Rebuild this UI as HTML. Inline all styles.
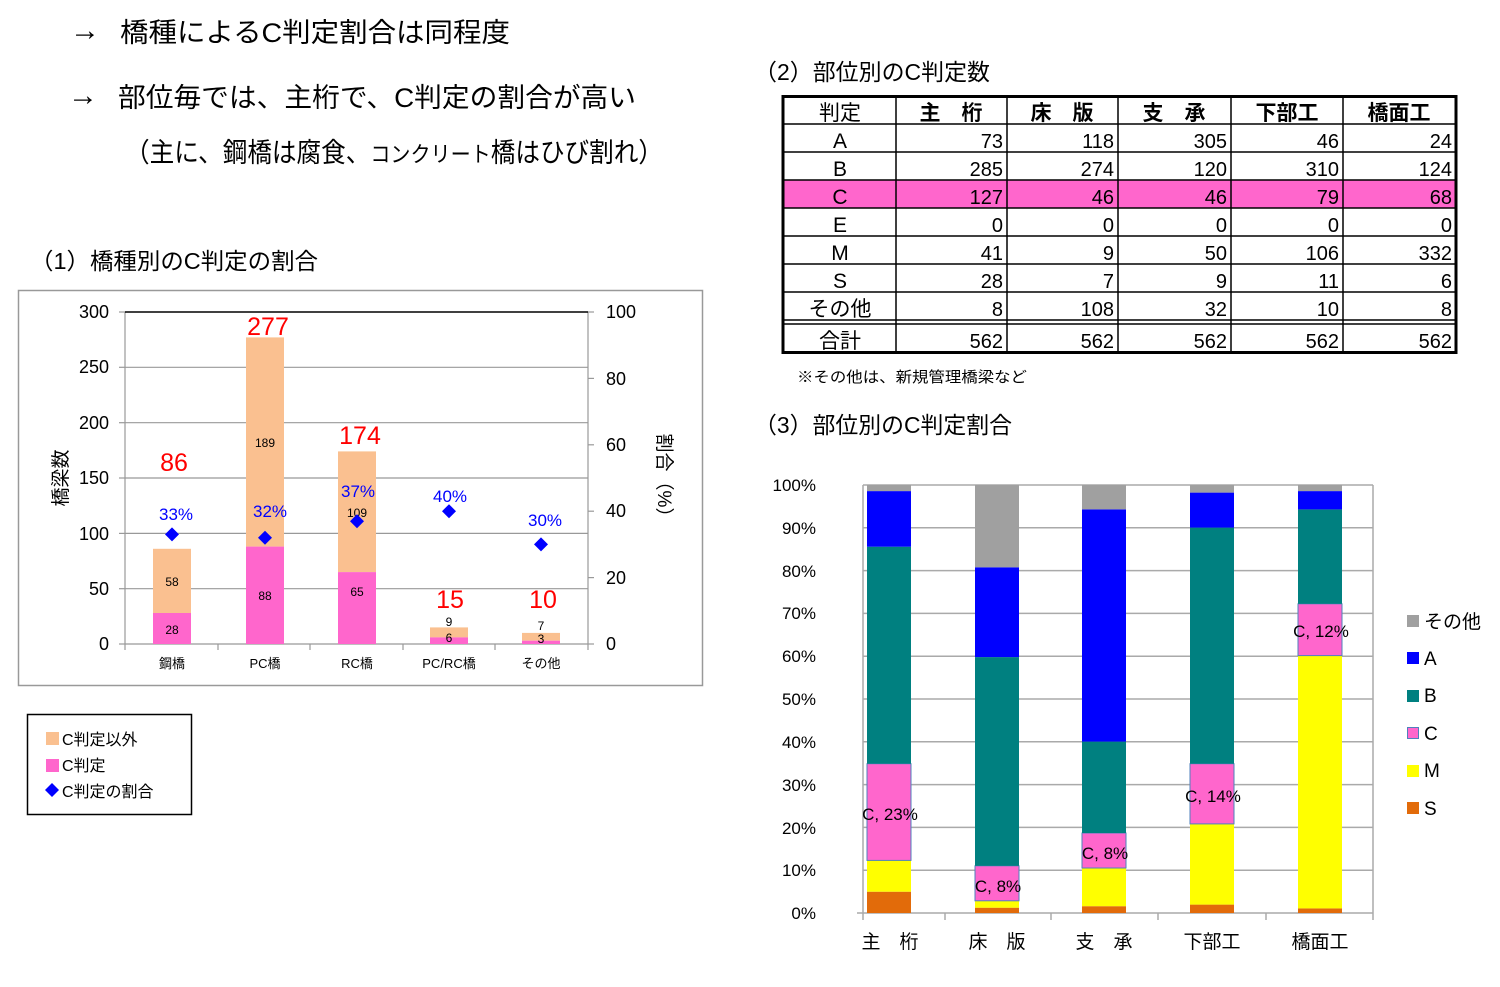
<!DOCTYPE html>
<html><head><meta charset="utf-8">
<style>
html,body{margin:0;padding:0;background:#fff;}
svg{display:block;}
text{font-family:"Liberation Sans","Noto Sans CJK JP",sans-serif;}
</style></head>
<body>
<svg width="1500" height="987" viewBox="0 0 1500 987" xmlns="http://www.w3.org/2000/svg">
<!-- headings -->
<g font-size="27" fill="#000">
<text x="70" y="40" font-size="30">→</text>
<text x="120" y="42" textLength="390" lengthAdjust="spacingAndGlyphs">橋種によるC判定割合は同程度</text>
<text x="68" y="105" font-size="30">→</text>
<text x="118" y="107" textLength="518" lengthAdjust="spacingAndGlyphs">部位毎では、主桁で、C判定の割合が高い</text>
<text x="125" y="162" textLength="538" lengthAdjust="spacingAndGlyphs">（主に、鋼橋は腐食、<tspan font-size="22">コンクリート</tspan>橋はひび割れ）</text>
</g>
<g font-size="23" fill="#000">
<text x="30" y="269" textLength="288" lengthAdjust="spacingAndGlyphs">（1）橋種別のC判定の割合</text>
<text x="754" y="80" textLength="236" lengthAdjust="spacingAndGlyphs">（2）部位別のC判定数</text>
<text x="754" y="433" textLength="258" lengthAdjust="spacingAndGlyphs">（3）部位別のC判定割合</text>
</g>

<!-- chart 1 -->
<rect x="18.5" y="290.5" width="684" height="395" fill="#fff" stroke="#999" stroke-width="1.5"/>
<g stroke="#999" stroke-width="1.2">
<line x1="125" y1="588.7" x2="588" y2="588.7"/>
<line x1="125" y1="533.4" x2="588" y2="533.4"/>
<line x1="125" y1="478" x2="588" y2="478"/>
<line x1="125" y1="422.7" x2="588" y2="422.7"/>
<line x1="125" y1="367.3" x2="588" y2="367.3"/>
<line x1="125" y1="644" x2="588" y2="644"/>
<line x1="125" y1="312" x2="125" y2="650"/>
<line x1="588" y1="312" x2="588" y2="650"/>
<line x1="119" y1="312" x2="125" y2="312"/><line x1="119" y1="367.3" x2="125" y2="367.3"/><line x1="119" y1="422.7" x2="125" y2="422.7"/><line x1="119" y1="478" x2="125" y2="478"/><line x1="119" y1="533.4" x2="125" y2="533.4"/><line x1="119" y1="588.7" x2="125" y2="588.7"/><line x1="119" y1="644" x2="125" y2="644"/>
<line x1="588" y1="312" x2="594" y2="312"/><line x1="588" y1="378.4" x2="594" y2="378.4"/><line x1="588" y1="444.8" x2="594" y2="444.8"/><line x1="588" y1="511.2" x2="594" y2="511.2"/><line x1="588" y1="577.6" x2="594" y2="577.6"/><line x1="588" y1="644" x2="594" y2="644"/>
<line x1="218" y1="644" x2="218" y2="650"/><line x1="310" y1="644" x2="310" y2="650"/><line x1="403" y1="644" x2="403" y2="650"/><line x1="495" y1="644" x2="495" y2="650"/>
</g>
<line x1="125" y1="312" x2="588" y2="312" stroke="#000" stroke-width="1.5"/>
<g font-size="18" fill="#000" text-anchor="end">
<text x="109" y="318">300</text><text x="109" y="373">250</text><text x="109" y="429">200</text><text x="109" y="484">150</text><text x="109" y="540">100</text><text x="109" y="595">50</text><text x="109" y="650">0</text>
</g>
<g font-size="18" fill="#000">
<text x="606" y="318">100</text><text x="606" y="385">80</text><text x="606" y="451">60</text><text x="606" y="517">40</text><text x="606" y="584">20</text><text x="606" y="650">0</text>
</g>
<text font-size="19" transform="translate(67,478) rotate(-90)" text-anchor="middle">橋梁数</text>
<text font-size="19" transform="translate(658,480) rotate(90)" text-anchor="middle">割合（%）</text>
<!-- bars -->
<rect x="153" y="548.8" width="38" height="64.2" fill="#fac090"/><rect x="153" y="613" width="38" height="31" fill="#ff66cc"/>
<rect x="246" y="337.4" width="38" height="209.2" fill="#fac090"/><rect x="246" y="546.6" width="38" height="97.4" fill="#ff66cc"/>
<rect x="338" y="451.4" width="38" height="120.7" fill="#fac090"/><rect x="338" y="572.1" width="38" height="71.9" fill="#ff66cc"/>
<rect x="430" y="627.4" width="38" height="10" fill="#fac090"/><rect x="430" y="637.4" width="38" height="6.6" fill="#ff66cc"/>
<rect x="522" y="632.9" width="38" height="7.8" fill="#fac090"/><rect x="522" y="640.7" width="38" height="3.3" fill="#ff66cc"/>
<g font-size="12" fill="#000" text-anchor="middle">
<text x="172" y="586">58</text><text x="172" y="634">28</text>
<text x="265" y="447">189</text><text x="265" y="600">88</text>
<text x="357" y="517">109</text><text x="357" y="596">65</text>
<text x="449" y="626">9</text><text x="449" y="642">6</text>
<text x="541" y="630">7</text><text x="541" y="643">3</text>
</g>
<g font-size="25" fill="#ff0000" text-anchor="middle">
<text x="174" y="471">86</text><text x="268" y="335">277</text><text x="360" y="444">174</text><text x="450" y="608">15</text><text x="543" y="608">10</text>
</g>
<g font-size="17" fill="#0000ff" text-anchor="middle">
<text x="176" y="520">33%</text><text x="270" y="517">32%</text><text x="358" y="497">37%</text><text x="450" y="502">40%</text><text x="545" y="526">30%</text>
</g>
<g fill="#0000ff">
<path d="M172 527.4 l7 7 l-7 7 l-7 -7z"/><path d="M265 530.8 l7 7 l-7 7 l-7 -7z"/><path d="M357 514.2 l7 7 l-7 7 l-7 -7z"/><path d="M449 504.2 l7 7 l-7 7 l-7 -7z"/><path d="M541 537.4 l7 7 l-7 7 l-7 -7z"/>
</g>
<g font-size="13" fill="#000" text-anchor="middle">
<text x="172" y="668">鋼橋</text><text x="265" y="668">PC橋</text><text x="357" y="668">RC橋</text><text x="449" y="668">PC/RC橋</text><text x="541" y="668">その他</text>
</g>
<!-- legend 1 -->
<rect x="27.5" y="714.5" width="164" height="100" fill="#fff" stroke="#000" stroke-width="1.5"/>
<rect x="46" y="732" width="13" height="13" fill="#fac090"/>
<rect x="46" y="759" width="13" height="13" fill="#ff66cc"/>
<path d="M52 783 l7 7 l-7 7 l-7 -7z" fill="#0000ff"/>
<g font-size="16" fill="#000"><text x="62" y="745">C判定以外</text><text x="62" y="771">C判定</text><text x="62" y="797">C判定の割合</text></g>

<!-- table -->
<rect x="782" y="180" width="674" height="28" fill="#ff66cc"/>
<g stroke="#000" stroke-width="1.5">
<line x1="782" y1="124" x2="1456" y2="124"/><line x1="782" y1="152" x2="1456" y2="152"/><line x1="782" y1="180" x2="1456" y2="180"/><line x1="782" y1="208" x2="1456" y2="208"/><line x1="782" y1="236" x2="1456" y2="236"/><line x1="782" y1="264" x2="1456" y2="264"/><line x1="782" y1="292" x2="1456" y2="292"/>
<line x1="782" y1="320" x2="1456" y2="320"/><line x1="782" y1="324" x2="1456" y2="324"/>
<line x1="896" y1="96" x2="896" y2="352"/><line x1="1007" y1="96" x2="1007" y2="352"/><line x1="1118" y1="96" x2="1118" y2="352"/><line x1="1231" y1="96" x2="1231" y2="352"/><line x1="1343" y1="96" x2="1343" y2="352"/>
</g>
<rect x="783" y="96.5" width="673" height="256" fill="none" stroke="#000" stroke-width="3"/>
<g font-size="21" fill="#000" text-anchor="middle">
<text x="840" y="120">判定</text><text x="951" y="120" font-weight="bold">主　桁</text><text x="1062" y="120" font-weight="bold">床　版</text><text x="1174" y="120" font-weight="bold">支　承</text><text x="1287" y="120" font-weight="bold">下部工</text><text x="1399" y="120" font-weight="bold">橋面工</text>
<text x="840" y="148">A</text><text x="840" y="176">B</text><text x="840" y="204">C</text><text x="840" y="232">E</text><text x="840" y="260">M</text><text x="840" y="288">S</text><text x="840" y="316">その他</text><text x="840" y="348">合計</text>
</g>
<g font-size="20" fill="#000" text-anchor="end">
<text x="1003" y="148">73</text><text x="1114" y="148">118</text><text x="1227" y="148">305</text><text x="1339" y="148">46</text><text x="1452" y="148">24</text>
<text x="1003" y="176">285</text><text x="1114" y="176">274</text><text x="1227" y="176">120</text><text x="1339" y="176">310</text><text x="1452" y="176">124</text>
<text x="1003" y="204">127</text><text x="1114" y="204">46</text><text x="1227" y="204">46</text><text x="1339" y="204">79</text><text x="1452" y="204">68</text>
<text x="1003" y="232">0</text><text x="1114" y="232">0</text><text x="1227" y="232">0</text><text x="1339" y="232">0</text><text x="1452" y="232">0</text>
<text x="1003" y="260">41</text><text x="1114" y="260">9</text><text x="1227" y="260">50</text><text x="1339" y="260">106</text><text x="1452" y="260">332</text>
<text x="1003" y="288">28</text><text x="1114" y="288">7</text><text x="1227" y="288">9</text><text x="1339" y="288">11</text><text x="1452" y="288">6</text>
<text x="1003" y="316">8</text><text x="1114" y="316">108</text><text x="1227" y="316">32</text><text x="1339" y="316">10</text><text x="1452" y="316">8</text>
<text x="1003" y="348">562</text><text x="1114" y="348">562</text><text x="1227" y="348">562</text><text x="1339" y="348">562</text><text x="1452" y="348">562</text>
</g>
<text x="797" y="382" font-size="15" fill="#000" textLength="230" lengthAdjust="spacingAndGlyphs">※その他は、新規管理橋梁など</text>

<!-- chart 3 -->
<g stroke="#aaa" stroke-width="1.5">
<line x1="863" y1="485" x2="1373" y2="485"/><line x1="863" y1="527.8" x2="1373" y2="527.8"/><line x1="863" y1="570.6" x2="1373" y2="570.6"/><line x1="863" y1="613.4" x2="1373" y2="613.4"/><line x1="863" y1="656.2" x2="1373" y2="656.2"/><line x1="863" y1="699" x2="1373" y2="699"/><line x1="863" y1="741.8" x2="1373" y2="741.8"/><line x1="863" y1="784.6" x2="1373" y2="784.6"/><line x1="863" y1="827.4" x2="1373" y2="827.4"/><line x1="863" y1="870.2" x2="1373" y2="870.2"/><line x1="857" y1="913" x2="1373" y2="913"/>
<line x1="863" y1="485" x2="863" y2="920"/><line x1="1373" y1="485" x2="1373" y2="920"/>
<line x1="945" y1="913" x2="945" y2="920"/><line x1="1051" y1="913" x2="1051" y2="920"/><line x1="1158" y1="913" x2="1158" y2="920"/><line x1="1266" y1="913" x2="1266" y2="920"/>
</g>
<g font-size="17" fill="#000" text-anchor="end">
<text x="816" y="491">100%</text><text x="816" y="534">90%</text><text x="816" y="577">80%</text><text x="816" y="619">70%</text><text x="816" y="662">60%</text><text x="816" y="705">50%</text><text x="816" y="748">40%</text><text x="816" y="791">30%</text><text x="816" y="834">20%</text><text x="816" y="876">10%</text><text x="816" y="919">0%</text>
</g>
<g>
<rect x="867" y="891.7" width="44" height="21.3" fill="#e26b0a"/>
<rect x="867" y="860.4" width="44" height="31.3" fill="#ffff00"/>
<rect x="867" y="763.7" width="44" height="96.7" fill="#ff66cc" stroke="#4f81bd" stroke-width="1"/>
<rect x="867" y="546.7" width="44" height="217" fill="#008080"/>
<rect x="867" y="491.1" width="44" height="55.6" fill="#0000ff"/>
<rect x="867" y="485" width="44" height="6.1" fill="#a0a0a0"/>
<rect x="975" y="907.7" width="44" height="5.3" fill="#e26b0a"/>
<rect x="975" y="900.8" width="44" height="6.9" fill="#ffff00"/>
<rect x="975" y="865.8" width="44" height="35" fill="#ff66cc" stroke="#4f81bd" stroke-width="1"/>
<rect x="975" y="657.1" width="44" height="208.7" fill="#008080"/>
<rect x="975" y="567.3" width="44" height="89.8" fill="#0000ff"/>
<rect x="975" y="485" width="44" height="82.3" fill="#a0a0a0"/>
<rect x="1082" y="906.2" width="44" height="6.8" fill="#e26b0a"/>
<rect x="1082" y="868.1" width="44" height="38.1" fill="#ffff00"/>
<rect x="1082" y="833" width="44" height="35" fill="#ff66cc" stroke="#4f81bd" stroke-width="1"/>
<rect x="1082" y="741.6" width="44" height="91.4" fill="#008080"/>
<rect x="1082" y="509.4" width="44" height="232.2" fill="#0000ff"/>
<rect x="1082" y="485" width="44" height="24.4" fill="#a0a0a0"/>
<rect x="1190" y="904.6" width="44" height="8.4" fill="#e26b0a"/>
<rect x="1190" y="823.9" width="44" height="80.7" fill="#ffff00"/>
<rect x="1190" y="763.7" width="44" height="60.2" fill="#ff66cc" stroke="#4f81bd" stroke-width="1"/>
<rect x="1190" y="527.6" width="44" height="236.1" fill="#008080"/>
<rect x="1190" y="492.6" width="44" height="35" fill="#0000ff"/>
<rect x="1190" y="485" width="44" height="7.6" fill="#a0a0a0"/>
<rect x="1298" y="908.4" width="44" height="4.6" fill="#e26b0a"/>
<rect x="1298" y="655.6" width="44" height="252.8" fill="#ffff00"/>
<rect x="1298" y="603.8" width="44" height="51.8" fill="#ff66cc" stroke="#4f81bd" stroke-width="1"/>
<rect x="1298" y="509.4" width="44" height="94.4" fill="#008080"/>
<rect x="1298" y="491.1" width="44" height="18.3" fill="#0000ff"/>
<rect x="1298" y="485" width="44" height="6.1" fill="#a0a0a0"/>
</g>
<g font-size="17" fill="#000" text-anchor="middle">
<text x="890" y="820">C, 23%</text><text x="998" y="892">C, 8%</text><text x="1105" y="859">C, 8%</text><text x="1213" y="802">C, 14%</text><text x="1321" y="637">C, 12%</text>
</g>
<g font-size="19" fill="#000" text-anchor="middle">
<text x="890" y="948">主　桁</text><text x="997" y="948">床　版</text><text x="1104" y="948">支　承</text><text x="1212" y="948">下部工</text><text x="1320" y="948">橋面工</text>
</g>
<rect x="1407" y="615" width="12" height="12" fill="#a0a0a0"/>
<rect x="1407" y="652" width="12" height="12" fill="#0000ff"/>
<rect x="1407" y="690" width="12" height="12" fill="#008080"/>
<rect x="1407.5" y="727.5" width="11" height="11" fill="#ff66cc" stroke="#4f81bd"/>
<rect x="1407" y="765" width="12" height="12" fill="#ffff00"/>
<rect x="1407" y="802" width="12" height="12" fill="#e26b0a"/>
<g font-size="19" fill="#000">
<text x="1424" y="628">その他</text><text x="1424" y="665">A</text><text x="1424" y="702">B</text><text x="1424" y="740">C</text><text x="1424" y="777">M</text><text x="1424" y="815">S</text>
</g>
</svg>
</body></html>
